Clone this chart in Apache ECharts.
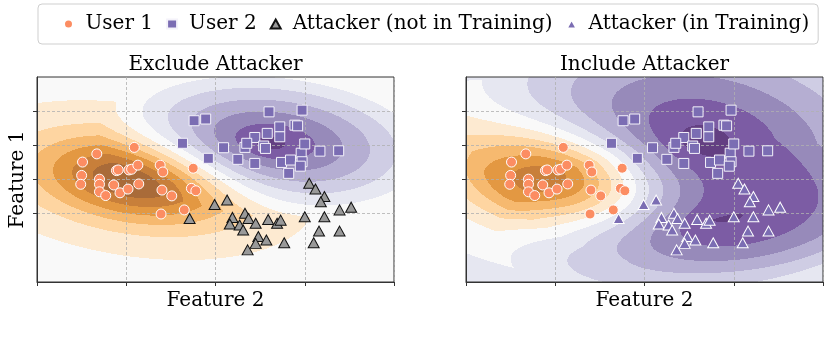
<!DOCTYPE html>
<html><head><meta charset="utf-8">
<script src="https://cdn.jsdelivr.net/npm/echarts@6/dist/echarts.min.js"></script>
<style>html,body{margin:0;padding:0;background:#fff}#c{width:830px;height:351px}</style>
</head><body><div id="c"></div>
<script>
// ---- data ----
const user1X = [1.09,0.67,0.51,0.50,0.49,0.70,0.70,0.70,0.77,0.86,0.89,0.91,1.03,1.06,1.13,0.93,1.02,1.14,1.38,1.41,1.40,1.51,1.75,1.73,1.78,1.65,1.39];
const user1Y = [1.94,1.75,1.51,1.12,0.86,1.01,0.86,0.64,0.53,0.84,1.26,1.28,1.28,1.30,1.42,0.61,0.72,0.87,1.42,1.22,0.69,0.52,1.33,0.74,0.67,0.11,-0.01];
const user2X = [1.76,1.89,2.60,2.97,2.72,2.89,2.92,2.44,2.58,2.72,1.63,2.09,1.92,2.33,2.35,2.54,2.56,2.25,2.44,2.74,2.84,2.96,2.97,2.95,3.00,3.17,3.38,2.82];
const user2Y = [2.72,2.77,2.98,3.03,2.54,2.59,2.57,2.23,2.35,2.25,2.06,1.93,1.62,1.94,2.06,1.98,1.91,1.59,1.47,1.50,1.57,1.77,1.52,1.39,2.04,1.83,1.84,1.18];
const attackerX = [1.71,1.99,2.13,2.19,2.16,2.33,2.37,2.27,2.31,2.45,2.59,2.69,2.73,2.48,2.57,2.45,2.36,2.77,3.05,3.12,3.22,3.18,3.00,3.22,3.39,3.52,3.16,3.39,3.10];
const attackerY = [-0.14,0.27,0.40,-0.11,-0.30,0.01,-0.14,-0.33,-0.48,-0.28,-0.17,-0.28,-0.19,-0.67,-0.77,-0.87,-1.06,-0.85,0.89,0.72,0.50,0.35,-0.09,-0.09,0.11,0.19,-0.51,-0.51,-0.85];
const xTicks = [0,1,2,3,4];
const yTicks = [0,1,2,3];
const xRange = [0,4];
const yRange = [-2,4];
const panelTitles = ['Exclude Attacker','Include Attacker'];
const legendNames = ['User 1','User 2','Attacker (not in Training)','Attacker (in Training)'];
const xName = 'Feature 2';
const yName = 'Feature 1';

// ---- background decision surfaces fitted from the points ----
function fit(xs, ys, kx, ky, shape, p) {
  const n = xs.length; let mx = 0, my = 0;
  for (let i = 0; i < n; i++) { mx += xs[i]; my += ys[i]; }
  mx /= n; my /= n;
  let sxx = 0, syy = 0, sxy = 0;
  for (let i = 0; i < n; i++) { const dx = xs[i]-mx, dy = ys[i]-my; sxx += dx*dx; syy += dy*dy; sxy += dx*dy; }
  sxx = sxx/n*kx*kx; syy = syy/n*ky*ky; sxy = sxy/n*kx*ky;
  const det = sxx*syy - sxy*sxy;
  return {mx, my, a: syy/det, b: -sxy/det, c: sxx/det, shape, p};
}
function prof(m, x, y) {
  const dx = x-m.mx, dy = y-m.my;
  const d2 = m.a*dx*dx + 2*m.b*dx*dy + m.c*dy*dy;
  if (m.shape === 'cone') return Math.max(0, 1 - Math.sqrt(d2)/m.p);
  return Math.pow(1 + d2/(2*m.p), -m.p);
}
const m1L = fit(user1X, user1Y, 2.0, 2.0, 't', 5), m2L = fit(user2X, user2Y, 1, 1, 'cone', 4.4);
const m1R = fit(user1X, user1Y, 2.1, 2.3, 't', 8), m2R = fit(user2X, user2Y, 1, 1.3, 'cone', 6), mAR = fit(attackerX, attackerY, 1, 1, 'cone', 5);
function fieldLeft(x, y) { return prof(m2L, x, y) - prof(m1L, x, y); }
function fieldRight(x, y) {
  const G = 1 - (1 - prof(m2R, x, y))*(1 - prof(mAR, x, y));
  return 0.12 + 0.9*G - 1.15*prof(m1R, x, y);
}

const PUOR = ['#7f3b08','#b35806','#e08214','#fdb863','#fee0b6','#f7f7f7','#d8daeb','#b2abd2','#8073ac','#542788','#2d004b'];
function hex(h) { return [parseInt(h.slice(1,3),16), parseInt(h.slice(3,5),16), parseInt(h.slice(5,7),16)]; }
function cmap(t) { const p = Math.max(0, Math.min(1, t))*10; const i = Math.min(9, Math.floor(p)); const f = p-i; const a = hex(PUOR[i]), b = hex(PUOR[i+1]); return a.map((v,j) => v + (b[j]-v)*f); }
const NB = 13, ALPHA = 0.8;
const bandColors = [];
for (let k = 0; k < NB; k++) { const mid = -1 + (k+0.5)*2/NB; const c = cmap((mid+1)/2); bandColors.push(c.map(v => Math.round(ALPHA*v + (1-ALPHA)*255))); }

function renderBg(params, api) {
  const panel = api.value(4);
  const x0 = api.value(0), y0 = api.value(1), x1 = api.value(2), y1 = api.value(3);
  const tl = api.coord([x0, y1]), br = api.coord([x1, y0]);
  const W = Math.round(br[0]-tl[0]), H = Math.round(br[1]-tl[1]);
  const cv = document.createElement('canvas'); cv.width = W; cv.height = H;
  const ctx = cv.getContext('2d'); const img = ctx.createImageData(W, H);
  const fn = panel === 0 ? fieldLeft : fieldRight;
  for (let j = 0; j < H; j++) for (let i = 0; i < W; i++) {
    const x = x0 + (i+0.5)/W*(x1-x0), y = y1 - (j+0.5)/H*(y1-y0);
    const f = fn(x, y);
    let k = Math.floor((f+1)/2*NB); k = Math.max(0, Math.min(NB-1, k));
    const c = bandColors[k], o = (j*W+i)*4;
    img.data[o] = c[0]; img.data[o+1] = c[1]; img.data[o+2] = c[2]; img.data[o+3] = 255;
  }
  ctx.putImageData(img, 0, 0);
  return {type: 'image', silent: true, style: {image: cv, x: tl[0], y: tl[1], width: W, height: H}};
}

const FONT = 'DejaVu Serif';
const pts = (xs, ys) => xs.map((x, i) => [x, ys[i]]);
const grids = [
  {left: 37, top: 77, width: 357, height: 205, show: true, borderColor: '#333', borderWidth: 1, backgroundColor: 'transparent', z: 3},
  {left: 466, top: 77, width: 357, height: 205, show: true, borderColor: '#333', borderWidth: 1, backgroundColor: 'transparent', z: 3}
];
function xAx(i) {
  return {gridIndex: i, type: 'value', min: xRange[0], max: xRange[1], interval: 1, z: 3,
    name: xName, nameLocation: 'middle', nameGap: 9,
    nameTextStyle: {fontFamily: FONT, fontSize: 20, color: '#000', verticalAlign: 'top'},
    axisLine: {show: true, onZero: false, lineStyle: {color: '#333', width: 1}},
    axisTick: {show: true, length: 4, inside: false, customValues: xTicks, lineStyle: {color: '#333'}},
    axisLabel: {show: false},
    splitLine: {show: true, lineStyle: {color: '#b0b0b0', type: [3, 2], width: 0.8}}};
}
function yAx(i) {
  return {gridIndex: i, type: 'value', min: yRange[0], max: yRange[1], interval: 1, z: 3,
    name: i === 0 ? yName : '', nameLocation: 'middle', nameGap: 9,
    nameTextStyle: {fontFamily: FONT, fontSize: 20, color: '#000'},
    axisLine: {show: true, onZero: false, lineStyle: {color: '#333', width: 1}},
    axisTick: {show: true, length: 4, customValues: yTicks, lineStyle: {color: '#333'}},
    axisLabel: {show: false},
    splitLine: {show: true, lineStyle: {color: '#b0b0b0', type: [3, 2], width: 0.8}}};
}
const ORANGE = '#fc8d62', PURPLE = '#7b6db3';
function scatter(name, i, xs, ys, symbol, size, color, border) {
  return {type: 'scatter', name, xAxisIndex: i, yAxisIndex: i, data: pts(xs, ys), symbol, symbolSize: size, z: 5,
    itemStyle: {color, borderColor: border, borderWidth: 1, opacity: 1}, emphasis: {disabled: true}};
}
const series = [];
for (let i = 0; i < 2; i++) {
  series.push({type: 'custom', xAxisIndex: i, yAxisIndex: i, z: 1, silent: true, renderItem: renderBg,
    data: [[xRange[0], yRange[0], xRange[1], yRange[1], i]], clip: false});
}
series.push(scatter(legendNames[0], 0, user1X, user1Y, 'circle', 10, ORANGE, '#fff'));
series.push(scatter(legendNames[1], 0, user2X, user2Y, 'rect', 10, PURPLE, '#f4f2fa'));
series.push(scatter(legendNames[2], 0, attackerX, attackerY, 'triangle', [11, 10], '#999999', '#111'));
series.push(scatter(legendNames[0], 1, user1X, user1Y, 'circle', 10, ORANGE, '#fff'));
series.push(scatter(legendNames[1], 1, user2X, user2Y, 'rect', 10, PURPLE, '#f4f2fa'));
series.push(scatter(legendNames[3], 1, attackerX, attackerY, 'triangle', [11, 10], PURPLE, '#fff'));

const chart = echarts.init(document.getElementById('c'), null, {renderer: 'canvas'});
chart.setOption({
  animation: false,
  backgroundColor: '#fff',
  title: panelTitles.map((t, i) => ({text: t, left: i === 0 ? 215.5 : 644.5, top: 55, textAlign: 'center', padding: 0,
    textStyle: {fontFamily: FONT, fontSize: 20, fontWeight: 'normal', color: '#000'}})),
  legend: {data: legendNames, left: 38, top: 4, orient: 'horizontal', padding: [10, 9, 10, 25],
    itemWidth: 10, itemHeight: 9, itemGap: 13, borderColor: '#cfcfcf', borderWidth: 1, borderRadius: 4,
    backgroundColor: '#fff', selectedMode: false,
    textStyle: {fontFamily: FONT, fontSize: 20, color: '#000', padding: [0, 0, 0, 7]}},
  grid: grids,
  xAxis: [xAx(0), xAx(1)],
  yAxis: [yAx(0), yAx(1)],
  series
});
</script></body></html>
